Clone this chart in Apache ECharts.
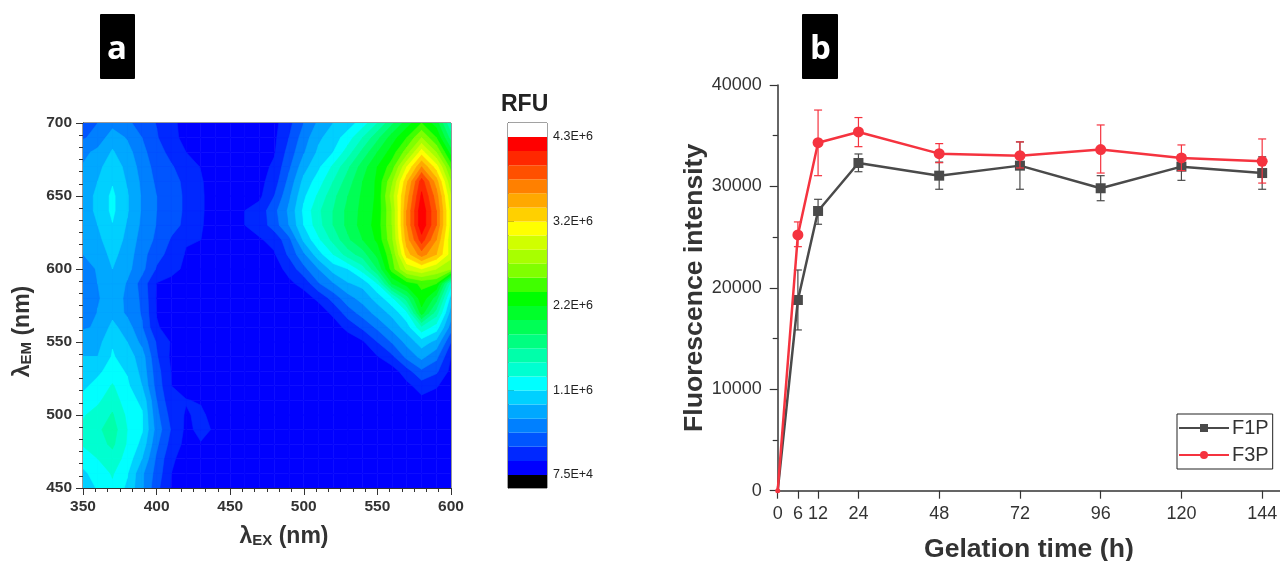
<!DOCTYPE html>
<html><head><meta charset="utf-8">
<style>html,body{margin:0;padding:0;background:#fff}#c{width:1280px;height:561px}</style>
<script src="https://cdn.jsdelivr.net/npm/echarts@6/dist/echarts.min.js"></script>
</head><body><div id="c"></div>
<script>
// Panel a: excitation / emission wavelengths and intensity (in colour-band units of the RFU scale)
const exNm = [350,360,370,380,390,400,410,420,430,440,450,460,470,480,490,500,510,520,530,540,550,560,570,580,590,600];
const em700 = [2.2,3.0,3.6,3.2,2.6,1.95,1.2,.7,.5,.3,.2,.2,.4,.7,1.7,3,4.2,5,5.5,6.5,8,9.8,11.5,13,11.5,8];
const em690 = [2.9,3.3,4.6,3.9,3.0,2.1,1.2,.8,.5,.3,.2,.2,.5,.8,2,3.5,4.8,5.5,6.5,8,9.7,11.5,13,15,13,9.5];
const em680 = [3.7,4.3,5.1,4.4,3.3,2.4,1.7,1.0,.6,.3,.2,.3,.5,.9,2.4,3.9,5.2,6,7.5,9.3,11,12.5,14.5,17.5,15,11.5];
const em670 = [4.1,4.7,5.6,4.7,3.6,2.6,2.1,1.5,.95,.4,.2,.3,.6,1.2,2.8,4.6,5.8,7.2,8.8,10.5,12,13.5,17,20,17.5,13.5];
const em660 = [4.2,5.0,5.9,4.9,3.8,2.8,2.3,1.8,1.1,.5,.3,.4,.7,1.5,3.3,5.3,6.5,8,9.5,11,12.2,14.8,18.8,22.5,19.5,15];
const em650 = [4.3,5.3,6.2,5.1,3.9,3,2.4,1.85,1.15,.5,.3,.5,.8,2,3.8,5.8,7.2,8.7,10,11.2,12.2,15.5,19.5,23.2,20.5,16];
const em640 = [4.3,5.3,6.2,5.1,3.9,3,2.4,1.85,1.15,.5,.4,1.0,1.4,2.7,4.2,6.2,7.8,9,10.3,11.3,12.3,15,20,23.8,21,16.5];
const em630 = [4.2,5,5.95,4.9,3.8,2.95,2.3,1.8,1.1,.5,.4,1.0,1.4,2.5,4,6,7.6,9,10.3,11.4,12.4,15,20,23.8,21,16.5];
const em620 = [4.1,4.7,5.7,4.7,3.6,2.8,1.9,1.1,1,.4,.3,.5,.9,1.3,2.7,5.2,6.8,8.3,9.8,11,12.2,14.8,19.5,22.5,20,16.2];
const em610 = [4,4.4,5.3,4.5,3.4,2.3,1.7,.9,.5,.3,.2,.3,.5,.9,2.2,3.8,5.6,7,8.5,9.5,11.3,14,18.5,20.5,19,16.5];
const em600 = [3.5,4.1,5,4.3,3.3,1.9,1.3,.8,.4,.2,.2,.2,.3,.6,1.3,2.7,4,5.4,6,7.5,10,13.5,16.2,17,16,15];
const em590 = [3.2,4,4.8,3.9,2.6,.95,.7,.5,.3,.2,.2,.2,.2,.4,.8,1.3,2.9,3.9,4.9,5.3,7,11,12.5,13.2,13,7.5];
const em580 = [3.1,3.9,4.5,3.8,2.8,.9,.6,.4,.3,.2,.2,.2,.2,.2,.3,.6,1.2,2.4,3.6,4.4,5.4,6.8,9.5,12.7,10.5,5.5];
const em570 = [3.1,4.05,4.7,3.8,2.9,.95,.6,.4,.3,.2,.2,.2,.2,.2,.2,.3,.5,1.2,2.5,3.4,4.4,5.3,6.8,11.5,8.5,4.5];
const em560 = [3.9,4.1,5.3,4.5,3.1,1.1,.6,.4,.3,.2,.2,.2,.2,.2,.2,.2,.3,.5,1.3,2.2,3.2,4.3,5.5,7.7,6.5,3.5];
const em550 = [4.5,4.6,5.9,5,3.7,1.9,.9,.4,.3,.2,.2,.2,.2,.2,.2,.2,.2,.3,.4,.85,2,3.1,4.3,5.5,4.7,2];
const em540 = [5,5,6.1,5.5,4.5,2.1,.8,.4,.3,.2,.2,.2,.2,.2,.2,.2,.2,.2,.3,.4,.95,1.8,3.3,4.3,3.3,1];
const em530 = [5.5,5.8,6.4,5.9,4.7,2.4,.95,.4,.3,.2,.2,.2,.2,.2,.2,.2,.2,.2,.2,.3,.4,.5,1.6,2.8,2.2,.7];
const em520 = [5.8,6.3,7.1,6.2,5,2.6,1,.5,.3,.2,.2,.2,.2,.2,.2,.2,.2,.2,.2,.2,.2,.3,.7,1.5,1.1,.4];
const em510 = [6.3,6.8,7.6,6.4,5.8,3,1.2,1.05,.9,.4,.2,.2,.2,.2,.2,.2,.2,.2,.2,.2,.2,.2,.3,.7,.5,.2];
const em500 = [6.9,7.4,8.1,6.8,6.1,3.3,1.6,.9,1.2,.6,.2,.2,.2,.2,.2,.2,.2,.2,.2,.2,.2,.2,.2,.4,.3,.2];
const em490 = [7.2,7.8,8.5,7,6.1,3.6,1.9,.8,1.2,.9,.2,.2,.2,.2,.2,.2,.2,.2,.2,.2,.2,.2,.2,.2,.2,.2];
const em480 = [7.1,7.6,8.2,6.9,5.7,3.2,1.6,.7,.95,.4,.2,.2,.2,.2,.2,.2,.2,.2,.2,.2,.2,.2,.2,.2,.2,.2];
const em470 = [6.4,7,7.6,6.6,5,2.8,1.2,.5,.3,.2,.2,.2,.2,.2,.2,.2,.2,.2,.2,.2,.2,.2,.2,.2,.2,.2];
const em460 = [5.8,6.4,7.1,6.1,4.2,2.6,1,.4,.2,.2,.2,.2,.2,.2,.2,.2,.2,.2,.2,.2,.2,.2,.2,.2,.2,.2];
const em450 = [5.4,6.1,6.8,5.8,4.2,2.3,.9,.4,.2,.2,.2,.2,.2,.2,.2,.2,.2,.2,.2,.2,.2,.2,.2,.2,.2,.2];
const emNm = [450,460,470,480,490,500,510,520,530,540,550,560,570,580,590,600,610,620,630,640,650,660,670,680,690,700];
const emRows = [em450,em460,em470,em480,em490,em500,em510,em520,em530,em540,em550,em560,em570,em580,em590,em600,em610,em620,em630,em640,em650,em660,em670,em680,em690,em700];

// Colour scale
const rfuMin = 7.5e4, rfuMax = 4.3e6;
const bandColors = ['#0000ff','#0028ff','#0055ff','#0080ff','#00a8ff','#00d0ff','#00ffff','#00ffd0','#00ffaa','#00ff80','#00ff55','#00ff2a','#00ff00','#40ff00','#80ff00','#a8ff00','#d0ff00','#ffff00','#ffd000','#ffa800','#ff8000','#ff5000','#ff2800','#ff0000'];
const rfuTicks = [75000,1131250,2187500,3243750,4300000];
const rfuTickLabels = ['7.5E+4','1.1E+6','2.2E+6','3.2E+6','4.3E+6'];

// Panel b
const hours = [0,6,12,24,48,72,96,120,144];
const f1p = [0,18800,27580,32310,31060,32050,29820,31950,31320];
const f1pHigh = [0,21760,28730,33200,32400,34390,31060,33100,32920];
const f1pLow = [0,15850,26270,31450,29720,29720,28590,30600,29720];
const f3p = [0,25220,34310,35370,33230,33030,33630,32810,32480];
const f3pHigh = [0,26500,37530,36790,34220,34390,36060,34090,34680];
const f3pLow = [0,24060,31060,33920,32340,31820,31320,31560,30330];

const bandStep = (rfuMax - rfuMin) / bandColors.length;
const rfuValue = lv => rfuMin + lv * bandStep;
const font = '"Liberation Sans", Arial, sans-serif';

// one contour cell for every neighbouring 4 grid values
const cells = [];
for (let j = 0; j < emNm.length - 1; j++) {
  for (let i = 0; i < exNm.length - 1; i++) {
    cells.push([exNm[i], emNm[j], exNm[i+1], emNm[j+1],
      rfuValue(emRows[j][i]), rfuValue(emRows[j][i+1]), rfuValue(emRows[j+1][i+1]), rfuValue(emRows[j+1][i])]);
  }
}
function clipAbove(poly, level) {
  const out = [];
  for (let k = 0; k < poly.length; k++) {
    const a = poly[k], b = poly[(k + 1) % poly.length];
    const ia = a[2] >= level, ib = b[2] >= level;
    if (ia) out.push(a);
    if (ia !== ib) {
      const t = (level - a[2]) / (b[2] - a[2]);
      out.push([a[0] + t * (b[0] - a[0]), a[1] + t * (b[1] - a[1]), level]);
    }
  }
  return out;
}
function renderCell(params, api) {
  const x0 = api.value(0), y0 = api.value(1), x1 = api.value(2), y1 = api.value(3);
  const quad = [[x0,y0,api.value(4)],[x1,y0,api.value(5)],[x1,y1,api.value(6)],[x0,y1,api.value(7)]];
  const children = [];
  for (let b = 0; b < bandColors.length; b++) {
    const poly = b === 0 ? quad : clipAbove(quad, rfuValue(b));
    if (poly.length < 3) break;
    children.push({
      type: 'polygon', silent: true, z2: b,
      shape: { points: poly.map(p => api.coord([p[0], p[1]])) },
      style: { fill: bandColors[b], stroke: bandColors[b], lineWidth: 0.6 }
    });
  }
  return { type: 'group', children };
}
function renderBand(params, api) {
  const lo = api.coord([0, api.value(0)]), hi = api.coord([1, api.value(1)]);
  return { type: 'rect', silent: true,
    shape: { x: lo[0], y: hi[1], width: hi[0] - lo[0], height: lo[1] - hi[1] },
    style: { fill: api.value(2) === 0 ? bandColors[api.value(3)] : (api.value(2) === 1 ? '#000000' : '#ffffff') } };
}
const barMin = -87500, barMax = 4475000;
const barData = [[barMin, rfuMin, 1, 0], [rfuMax, barMax, 2, 0]].concat(
  bandColors.map((c, i) => [rfuValue(i), rfuValue(i + 1), 0, i]));

function errorRenderer(color) {
  return function (params, api) {
    const t = api.value(0);
    const hi = api.coord([t, api.value(1)]), lo = api.coord([t, api.value(2)]);
    const st = { stroke: color, lineWidth: 1.2, fill: null };
    const cap = 4;
    return { type: 'group', children: [
      { type: 'line', silent: true, shape: { x1: hi[0], y1: hi[1], x2: lo[0], y2: lo[1] }, style: st },
      { type: 'line', silent: true, shape: { x1: hi[0]-cap, y1: hi[1], x2: hi[0]+cap, y2: hi[1] }, style: st },
      { type: 'line', silent: true, shape: { x1: lo[0]-cap, y1: lo[1], x2: lo[0]+cap, y2: lo[1] }, style: st }
    ]};
  };
}
const grey = '#4a4a4a', red = '#f5333f';
const axisColor = '#333';
const aAxis = (extra) => Object.assign({
  type: 'value', interval: 50, splitLine: { show: false },
  axisLine: { show: true, onZero: false, lineStyle: { color: axisColor, width: 1 } },
  axisTick: { show: true, length: 7, lineStyle: { color: axisColor } },
  minorTick: { show: true, splitNumber: 6, length: 4, lineStyle: { color: axisColor } },
  axisLabel: { fontFamily: font, fontSize: 15.5, fontWeight: 'bold', color: '#333', margin: 11, hideOverlap: false,
               showMinLabel: true, showMaxLabel: true },
  nameLocation: 'middle', nameTextStyle: { fontFamily: font }
}, extra);
const nameRich = {
  m: { fontFamily: font, fontSize: 23, fontWeight: 'bold', color: '#333' },
  s: { fontFamily: font, fontSize: 15, fontWeight: 'bold', color: '#333', verticalAlign: 'bottom', padding: [8,0,0,0] }
};
const plain = v => String(v);

const option = {
  animation: false,
  backgroundColor: '#fff',
  grid: [
    { left: 83, top: 123, width: 368, height: 365, show: true, borderColor: axisColor, borderWidth: 1, backgroundColor: 'transparent', outerBoundsMode: 'none' },
    { left: 508, top: 123, width: 39, height: 365, show: true, borderColor: '#444', borderWidth: 1, backgroundColor: 'transparent', outerBoundsMode: 'none' },
    { left: 777.7, top: 85, right: 0, height: 405.7, outerBoundsMode: 'none' }
  ],
  xAxis: [
    aAxis({ gridIndex: 0, min: 350, max: 600, name: '{m|λ}{s|EX}{m| (nm)}', nameGap: 37,
      nameTextStyle: { rich: nameRich, padding: [0,0,0,34] } }),
    { type: 'value', gridIndex: 1, min: 0, max: 1, show: false },
    { type: 'value', gridIndex: 2, min: 0, max: 149.3, name: 'Gelation time (h)', nameLocation: 'middle', nameGap: 45,
      nameTextStyle: { fontFamily: font, fontSize: 26.6, fontWeight: 'bold', color: '#333' },
      splitLine: { show: false },
      axisLine: { onZero: false, lineStyle: { color: axisColor, width: 1.5 } },
      axisTick: { show: true, length: 8, customValues: hours, lineStyle: { color: axisColor, width: 1.2 } },
      axisLabel: { fontFamily: font, fontSize: 18, color: '#333', margin: 14, customValues: hours, formatter: plain } }
  ],
  yAxis: [
    aAxis({ gridIndex: 0, min: 450, max: 700, name: '{m|λ}{s|EM}{m| (nm)}', nameGap: 49, nameRotate: 90,
      nameTextStyle: { rich: nameRich, padding: [0,52,0,0] } }),
    { type: 'value', gridIndex: 1, position: 'right', min: barMin, max: barMax, splitLine: { show: false },
      axisLine: { show: true, lineStyle: { color: '#444' } },
      axisTick: { show: true, length: 6, customValues: rfuTicks, lineStyle: { color: '#444' } },
      axisLabel: { fontFamily: font, fontSize: 12.5, color: '#222', margin: 6, customValues: rfuTicks,
        formatter: v => rfuTickLabels[rfuTicks.indexOf(v)] || '' } },
    { type: 'value', gridIndex: 2, min: 0, max: 40000, interval: 10000, name: 'Fluorescence intensity',
      nameLocation: 'middle', nameGap: 70,
      nameTextStyle: { fontFamily: font, fontSize: 26.6, fontWeight: 'bold', color: '#333' },
      splitLine: { show: false },
      axisLine: { show: true, onZero: false, lineStyle: { color: axisColor, width: 1.5 } },
      axisTick: { show: true, length: 8, lineStyle: { color: axisColor, width: 1.2 } },
      minorTick: { show: true, splitNumber: 2, length: 5, lineStyle: { color: axisColor, width: 1.2 } },
      axisLabel: { fontFamily: font, fontSize: 18, color: '#333', margin: 16, formatter: plain } }
  ],
  legend: {
    left: 1177, top: 414, orient: 'vertical', data: ['F1P','F3P'],
    itemWidth: 50, itemHeight: 10, itemGap: 7, padding: [4,4,4,1],
    borderColor: '#222', borderWidth: 1, backgroundColor: '#fff',
    textStyle: { fontFamily: font, fontSize: 20, color: '#333', padding: [0,0,0,-2] },
    selectedMode: false
  },
  series: [
    { type: 'custom', name: 'RFU map', xAxisIndex: 0, yAxisIndex: 0, clip: true, silent: true,
      renderItem: renderCell, data: cells, encode: { x: [0,2], y: [1,3] }, progressive: 0 },
    { type: 'custom', name: 'RFU scale', xAxisIndex: 1, yAxisIndex: 1, silent: true,
      renderItem: renderBand, data: barData, encode: { y: [0,1] }, progressive: 0 },
    { type: 'custom', name: 'F1P SD', xAxisIndex: 2, yAxisIndex: 2, silent: true, z: 3,
      renderItem: errorRenderer(grey), encode: { x: 0, y: [1,2] },
      data: hours.slice(1).map((h, i) => [h, f1pHigh[i+1], f1pLow[i+1]]) },
    { type: 'line', name: 'F1P', xAxisIndex: 2, yAxisIndex: 2, z: 4,
      data: hours.map((h, i) => [h, f1p[i]]),
      symbol: 'rect', symbolSize: (v, p) => p.dataIndex === 0 ? 3 : 10, color: grey, lineStyle: { width: 2.5, color: grey }, itemStyle: { color: grey } },
    { type: 'custom', name: 'F3P SD', xAxisIndex: 2, yAxisIndex: 2, silent: true, z: 5,
      renderItem: errorRenderer(red), encode: { x: 0, y: [1,2] },
      data: hours.slice(1).map((h, i) => [h, f3pHigh[i+1], f3pLow[i+1]]) },
    { type: 'line', name: 'F3P', xAxisIndex: 2, yAxisIndex: 2, z: 6,
      data: hours.map((h, i) => [h, f3p[i]]),
      symbol: 'circle', symbolSize: (v, p) => p.dataIndex === 0 ? 5 : 11, color: red, lineStyle: { width: 2.5, color: red }, itemStyle: { color: red } }
  ],
  graphic: [
    { type: 'rect', left: 100, top: 14, shape: { width: 35, height: 65, r: 1 }, style: { fill: '#000' } },
    { type: 'text', left: 107, top: 33, style: { text: 'a', fill: '#fff', font: 'bold 33px "Open Sans", sans-serif' } },
    { type: 'rect', left: 802, top: 14, shape: { width: 36, height: 65, r: 1 }, style: { fill: '#000' } },
    { type: 'text', left: 810, top: 33, style: { text: 'b', fill: '#fff', font: 'bold 33px "Open Sans", sans-serif' } },
    { type: 'text', left: 501, top: 93, style: { text: 'RFU', fill: '#222', font: 'bold 23px "Liberation Sans", sans-serif' } }
  ]
};
const chart = echarts.init(document.getElementById('c'), null, { renderer: 'canvas' });
chart.setOption(option);
</script>
</body></html>
